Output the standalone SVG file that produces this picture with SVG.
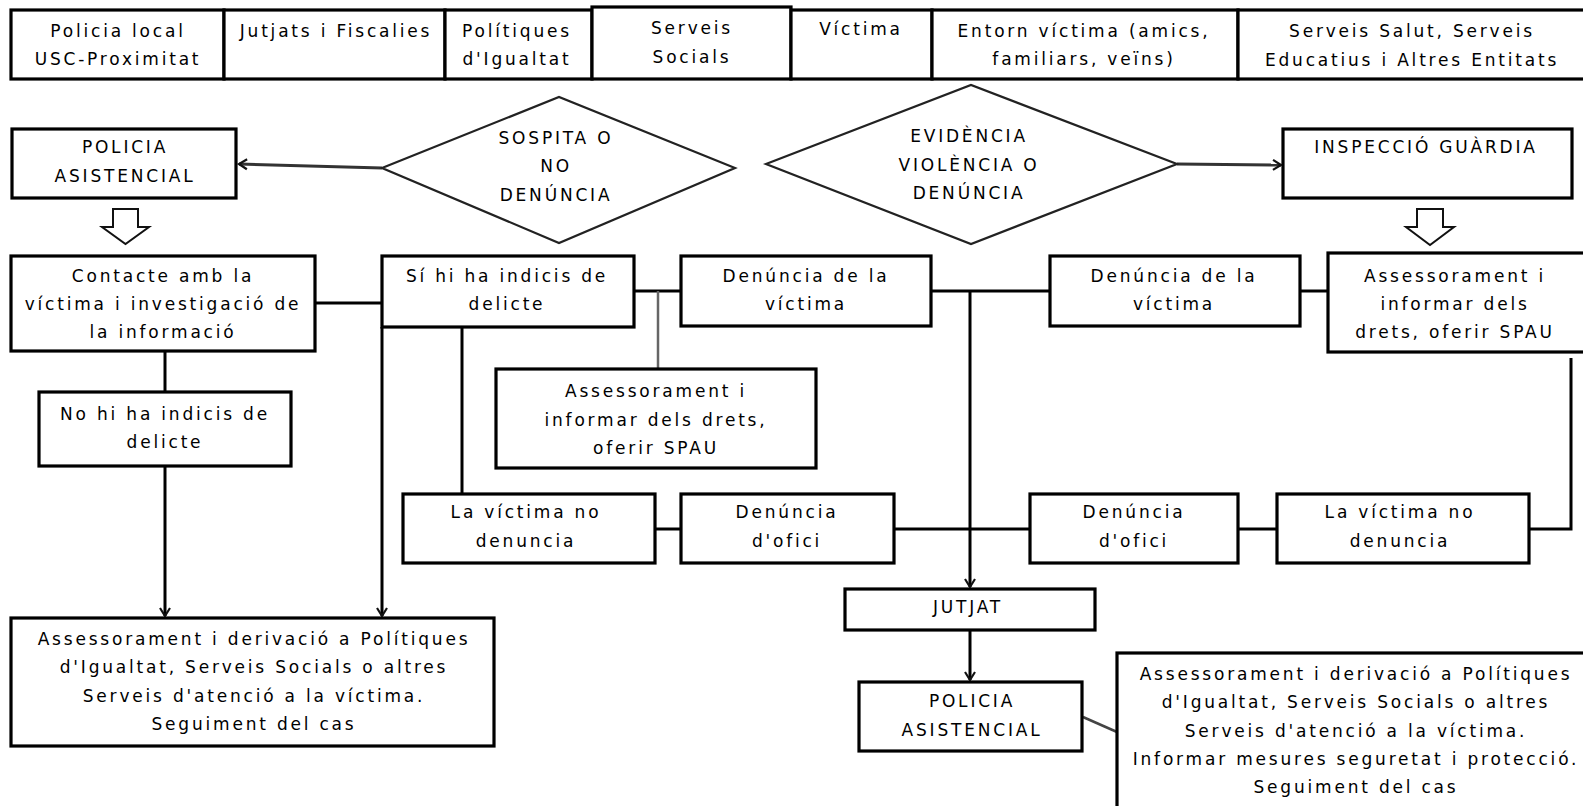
<svg xmlns="http://www.w3.org/2000/svg" width="1583" height="806" viewBox="0 0 1583 806">
<style>
.box{fill:#fff;stroke:#000;stroke-width:3.2}
.dia{fill:#fff;stroke:#222;stroke-width:2.2}
.blk{fill:#fff;stroke:#111;stroke-width:2}
.t{font-family:"DejaVu Sans",sans-serif;font-size:17px;letter-spacing:2.8px;text-anchor:middle;fill:#000}
.c{stroke:#000;stroke-width:3;fill:none}
.g{stroke:#333;stroke-width:3;fill:none}
</style>
<defs>
<marker id="ah" markerUnits="userSpaceOnUse" markerWidth="14" markerHeight="14" viewBox="-10 -7 12 14" refX="0" refY="0" orient="auto">
<path d="M-8,-5 L0,0 L-8,5" fill="none" stroke="#111" stroke-width="2.2"/>
</marker>
</defs>
<rect width="1583" height="806" fill="#fff"/>

<g id="connectors">
<line class="g" x1="382" y1="168" x2="239" y2="164" marker-end="url(#ah)"/>
<line class="g" x1="1177" y1="164" x2="1281" y2="165" marker-end="url(#ah)"/>
<line class="c" x1="315" y1="303" x2="382" y2="303"/>
<line class="c" x1="165" y1="351" x2="165" y2="392"/>
<line class="c" x1="165" y1="466" x2="165" y2="616" marker-end="url(#ah)"/>
<line class="c" x1="382" y1="327" x2="382" y2="616" marker-end="url(#ah)"/>
<line class="c" x1="462" y1="327" x2="462" y2="494"/>
<line class="c" x1="634" y1="291" x2="681" y2="291"/>
<line class="g" x1="658" y1="291" x2="658" y2="369" style="stroke:#666;stroke-width:2.5"/>
<line class="c" x1="655" y1="529" x2="681" y2="529"/>
<line class="c" x1="894" y1="529" x2="1030" y2="529"/>
<line class="c" x1="931" y1="291" x2="1050" y2="291"/>
<line class="c" x1="970" y1="291" x2="970" y2="587" marker-end="url(#ah)"/>
<line class="c" x1="1300" y1="291" x2="1328" y2="291"/>
<line class="c" x1="1238" y1="529" x2="1277" y2="529"/>
<polyline class="c" points="1529,529 1571,529 1571,358"/>
<line class="c" x1="970" y1="630" x2="970" y2="680" marker-end="url(#ah)"/>
<line class="g" x1="1083" y1="717" x2="1117" y2="732" style="stroke:#444;stroke-width:2.5"/>
</g>

<g id="hdr-policia-local"><rect class="box" x="11" y="10" width="213" height="69"/><text class="t" x="118" y="37">Policia local</text><text class="t" x="118" y="65">USC-Proximitat</text></g>
<g id="hdr-jutjats"><rect class="box" x="224" y="10" width="221" height="69"/><text class="t" x="336" y="37">Jutjats i Fiscalies</text></g>
<g id="hdr-politiques"><rect class="box" x="445" y="10" width="147" height="69"/><text class="t" x="517" y="37">Polítiques</text><text class="t" x="517" y="65">d'Igualtat</text></g>
<g id="hdr-serveis-socials"><rect class="box" x="592" y="7" width="199" height="72"/><text class="t" x="692" y="34">Serveis</text><text class="t" x="692" y="63">Socials</text></g>
<g id="hdr-victima"><rect class="box" x="791" y="10" width="141" height="69"/><text class="t" x="861" y="35">Víctima</text></g>
<g id="hdr-entorn"><rect class="box" x="932" y="10" width="306" height="69"/><text class="t" x="1084" y="37">Entorn víctima (amics,</text><text class="t" x="1084" y="65">familiars, veïns)</text></g>
<g id="hdr-serveis-salut"><rect class="box" x="1238" y="10" width="360" height="69"/><text class="t" x="1412" y="37">Serveis Salut, Serveis</text><text class="t" x="1412" y="66">Educatius i Altres Entitats</text></g>

<g id="policia-asistencial-1"><rect class="box" x="12" y="129" width="224" height="69"/><text class="t" x="125" y="153">POLICIA</text><text class="t" x="125" y="182">ASISTENCIAL</text></g>
<g id="sospita"><polygon class="dia" points="382,168 559,97 735,168 559,243"/><text class="t" x="556" y="144">SOSPITA O</text><text class="t" x="556" y="172">NO</text><text class="t" x="556" y="201">DENÚNCIA</text></g>
<g id="evidencia"><polygon class="dia" points="766,164 971,85 1177,164 971,244"/><text class="t" x="969" y="142">EVIDÈNCIA</text><text class="t" x="969" y="171">VIOLÈNCIA O</text><text class="t" x="969" y="199">DENÚNCIA</text></g>
<g id="inspeccio"><rect class="box" x="1283" y="129" width="289" height="69"/><text class="t" x="1426" y="153">INSPECCIÓ GUÀRDIA</text></g>
<g id="block-arrow-left"><polygon class="blk" points="113,209 138,209 138,227 149,227 125.5,244 102,227 113,227"/></g>
<g id="block-arrow-right"><polygon class="blk" points="1417,209 1443,209 1443,227 1454,227 1430,245 1406,227 1417,227"/></g>

<g id="contacte"><rect class="box" x="11" y="256" width="304" height="95"/><text class="t" x="163" y="282">Contacte amb la</text><text class="t" x="163" y="310">víctima i investigació de</text><text class="t" x="163" y="338">la informació</text></g>
<g id="si-indicis"><rect class="box" x="382" y="256" width="252" height="71"/><text class="t" x="507" y="282">Sí hi ha indicis de</text><text class="t" x="507" y="310">delicte</text></g>
<g id="denuncia-victima-1"><rect class="box" x="681" y="256" width="250" height="70"/><text class="t" x="806" y="282">Denúncia de la</text><text class="t" x="806" y="310">víctima</text></g>
<g id="denuncia-victima-2"><rect class="box" x="1050" y="256" width="250" height="70"/><text class="t" x="1174" y="282">Denúncia de la</text><text class="t" x="1174" y="310">víctima</text></g>
<g id="assessorament-2"><rect class="box" x="1328" y="253" width="270" height="99"/><text class="t" x="1455" y="282">Assessorament i</text><text class="t" x="1455" y="310">informar dels</text><text class="t" x="1455" y="338">drets, oferir SPAU</text></g>
<g id="assessorament-1"><rect class="box" x="496" y="369" width="320" height="99"/><text class="t" x="656" y="397">Assessorament i</text><text class="t" x="656" y="426">informar dels drets,</text><text class="t" x="656" y="454">oferir SPAU</text></g>
<g id="no-indicis"><rect class="box" x="39" y="392" width="252" height="74"/><text class="t" x="165" y="420">No hi ha indicis de</text><text class="t" x="165" y="448">delicte</text></g>
<g id="no-denuncia-1"><rect class="box" x="403" y="494" width="252" height="69"/><text class="t" x="526" y="518">La víctima no</text><text class="t" x="526" y="547">denuncia</text></g>
<g id="ofici-1"><rect class="box" x="681" y="494" width="213" height="69"/><text class="t" x="787" y="518">Denúncia</text><text class="t" x="787" y="547">d'ofici</text></g>
<g id="ofici-2"><rect class="box" x="1030" y="494" width="208" height="69"/><text class="t" x="1134" y="518">Denúncia</text><text class="t" x="1134" y="547">d'ofici</text></g>
<g id="no-denuncia-2"><rect class="box" x="1277" y="494" width="252" height="69"/><text class="t" x="1400" y="518">La víctima no</text><text class="t" x="1400" y="547">denuncia</text></g>
<g id="derivacio-1"><rect class="box" x="11" y="618" width="483" height="128"/><text class="t" x="254" y="645">Assessorament i derivació a Polítiques</text><text class="t" x="254" y="673">d'Igualtat, Serveis Socials o altres</text><text class="t" x="254" y="702">Serveis d'atenció a la víctima.</text><text class="t" x="254" y="730">Seguiment del cas</text></g>
<g id="jutjat"><rect class="box" x="845" y="589" width="250" height="41"/><text class="t" x="968" y="613">JUTJAT</text></g>
<g id="policia-asistencial-2"><rect class="box" x="859" y="682" width="223" height="69"/><text class="t" x="972" y="707">POLICIA</text><text class="t" x="972" y="736">ASISTENCIAL</text></g>
<g id="derivacio-2"><rect class="box" x="1117" y="653" width="480" height="170"/><text class="t" x="1356" y="680">Assessorament i derivació a Polítiques</text><text class="t" x="1356" y="708">d'Igualtat, Serveis Socials o altres</text><text class="t" x="1356" y="737">Serveis d'atenció a la víctima.</text><text class="t" x="1356" y="765">Informar mesures seguretat i protecció.</text><text class="t" x="1356" y="793">Seguiment del cas</text></g>
</svg>
